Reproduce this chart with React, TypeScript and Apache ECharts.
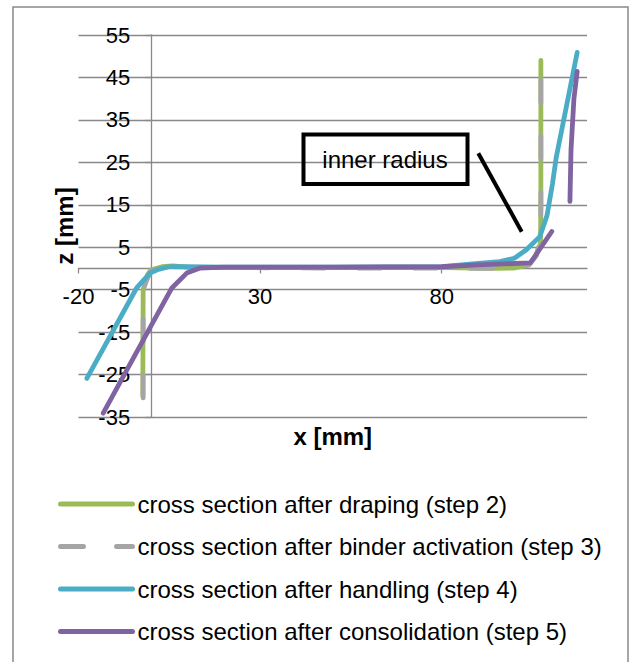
import React, { useEffect, useRef } from "react";
import * as echarts from "echarts";

const FONT = '"Liberation Sans", Arial, Helvetica, sans-serif';

const seriesNames = [
  "cross section after draping (step 2)",
  "cross section after binder activation (step 3)",
  "cross section after handling (step 4)",
  "cross section after consolidation (step 5)",
];
const seriesColors = ["#9BBB59", "#A5A5A5", "#4BACC6", "#8064A2"];

const xTickLabels = [-20, 30, 80];
const yTickLabels = [-35, -25, -15, -5, 5, 15, 25, 35, 45, 55];

const drapingX = [-2.3, -2.2, -1, 0, 3, 6, 10, 20, 50, 80, 95, 100, 104, 106, 107.2, 107.3, 107.3];
const drapingZ = [-30, -5, -1.5, -0.3, 0.4, 0.6, 0.3, 0.2, 0.2, 0.2, 0, 0.1, 0.8, 3, 6, 15, 49];

const binderX = [-2.2, -2.2, -1.2, 0, 5, 20, 50, 80, 95, 100, 104, 106, 107.2, 107.3, 107.3];
const binderZ = [-30.5, -5, -2.7, -0.5, 0.3, 0.2, 0.1, 0.1, 0, 0.2, 0.9, 3, 7, 15, 47];

const handlingX = [-17.7, -4, -0.3, 2, 5.2, 10, 20, 50, 80, 90, 96, 100, 103.3, 107, 109, 110.5, 111.5, 117.3];
const handlingZ = [-25.9, -4.6, -1.1, -0.2, 0.45, 0.4, 0.3, 0.3, 0.4, 1.2, 1.6, 2.4, 4.4, 7.5, 12.5, 20, 26, 50.9];

const consolidationX = [-13.2, 5.7, 9.8, 13.5, 20, 50, 80, 90, 104.4, 110.3, 112, 115.3, 115.6, 116.4, 117.3];
const consolidationZ: (number | null)[] = [-34.1, -4.6, -1.1, 0.1, 0.3, 0.3, 0.4, 0.85, 1.3, 8.7, null, 15.8, 28, 40, 46.4];

const X_MIN = -20;
const X_MAX = 120;
const Y_MIN = -35;
const Y_MAX = 55;

const pair = (xs: number[], zs: (number | null)[]) =>
  xs.map((x, i) => [x, zs[i] === null ? "-" : zs[i]]);

export default function App() {
  const ref = useRef<HTMLDivElement>(null);

  useEffect(() => {
    if (!ref.current) return;
    const chart = echarts.init(ref.current, null, { renderer: "svg" });
    const grid = "#898989";
    const W = 637;
    const H = 662;
    const gl = 78.5;
    const gr = 50;
    const gt = 35;
    const gb = 245;
    const plotW = W - gl - gr;
    const plotH = H - gt - gb;
    // shift axes so they cross at the origin (labels follow the axis like Excel)
    const yAxisOffset = -plotW * ((0 - X_MIN) / (X_MAX - X_MIN));
    const xAxisOffset = -plotH * ((0 - Y_MIN) / (Y_MAX - Y_MIN));
    const dataSets = [
      pair(drapingX, drapingZ),
      pair(binderX, binderZ),
      pair(handlingX, handlingZ),
      pair(consolidationX, consolidationZ),
    ];
    chart.setOption({
      animation: false,
      backgroundColor: "#ffffff",
      textStyle: { fontFamily: FONT },
      grid: { left: gl, right: gr, top: gt, bottom: gb, containLabel: false, outerBoundsMode: "none" },
      xAxis: {
        type: "value",
        min: X_MIN,
        max: X_MAX,
        interval: 50,
        position: "bottom",
        offset: xAxisOffset,
        name: "x [mm]",
        nameLocation: "middle",
        nameGap: 156,
        nameTextStyle: { fontFamily: FONT, fontSize: 24, fontWeight: "bold", color: "#000" },
        axisLine: { show: true, onZero: false, lineStyle: { color: grid, width: 1.3 } },
        axisTick: { show: true, length: 5, customValues: xTickLabels, lineStyle: { color: grid, width: 1.3 } },
        axisLabel: { customValues: xTickLabels, fontFamily: FONT, fontSize: 22, color: "#000", margin: 17 },
        splitLine: { show: false },
      },
      yAxis: {
        type: "value",
        min: Y_MIN,
        max: Y_MAX,
        interval: 10,
        position: "left",
        offset: yAxisOffset,
        name: "z [mm]",
        nameLocation: "middle",
        nameRotate: 90,
        nameGap: 75,
        nameTextStyle: { fontFamily: FONT, fontSize: 24, fontWeight: "bold", color: "#000" },
        axisLine: { show: true, onZero: false, lineStyle: { color: grid, width: 1.3 } },
        axisTick: { show: true, length: 6, lineStyle: { color: grid, width: 1.3 } },
        axisLabel: { customValues: yTickLabels, fontFamily: FONT, fontSize: 22, color: "#000", margin: 21 },
        splitLine: { show: true, lineStyle: { color: grid, width: 1.3 } },
      },
      legend: {
        orient: "vertical",
        left: 58,
        top: 491,
        padding: 0,
        itemWidth: 72,
        itemHeight: 14,
        itemGap: 16.5,
        data: seriesNames,
        itemStyle: { opacity: 0 },
        lineStyle: { width: 5, cap: "round" },
        textStyle: { fontFamily: FONT, fontSize: 24, color: "#000", lineHeight: 26 },
      },
      series: seriesNames.map((name, i) => ({
        name,
        type: "line",
        data: dataSets[i],
        symbol: "none",
        showSymbol: false,
        connectNulls: false,
        color: seriesColors[i],
        lineStyle: {
          color: seriesColors[i],
          width: 4.8,
          cap: "round",
          join: "round",
          type: i === 1 ? [23, 33] : "solid",
        },
        z: 2 + i,
      })),
      graphic: [
        {
          type: "rect",
          shape: { x: 13, y: 7, width: 615, height: 700 },
          style: { fill: "none", stroke: grid, lineWidth: 1.5 },
          silent: true,
          z: 0,
        },
        {
          type: "rect",
          shape: { x: 303.5, y: 134.5, width: 164, height: 49.5 },
          style: { fill: "none", stroke: "#000", lineWidth: 4 },
          z: 20,
        },
        {
          type: "text",
          x: 385,
          y: 159,
          style: {
            text: "inner radius",
            fontFamily: FONT,
            fontSize: 24,
            fill: "#000",
            align: "center",
            verticalAlign: "middle",
          },
          z: 20,
        },
        {
          type: "line",
          shape: { x1: 478.3, y1: 153.3, x2: 521.7, y2: 231.7 },
          style: { stroke: "#000", lineWidth: 4 },
          z: 20,
        },
      ],
    });
    return () => chart.dispose();
  }, []);

  return (
    <div
      ref={ref}
      style={{ position: "absolute", left: 0, top: 0, width: 637, height: 662, background: "#fff" }}
    />
  );
}
